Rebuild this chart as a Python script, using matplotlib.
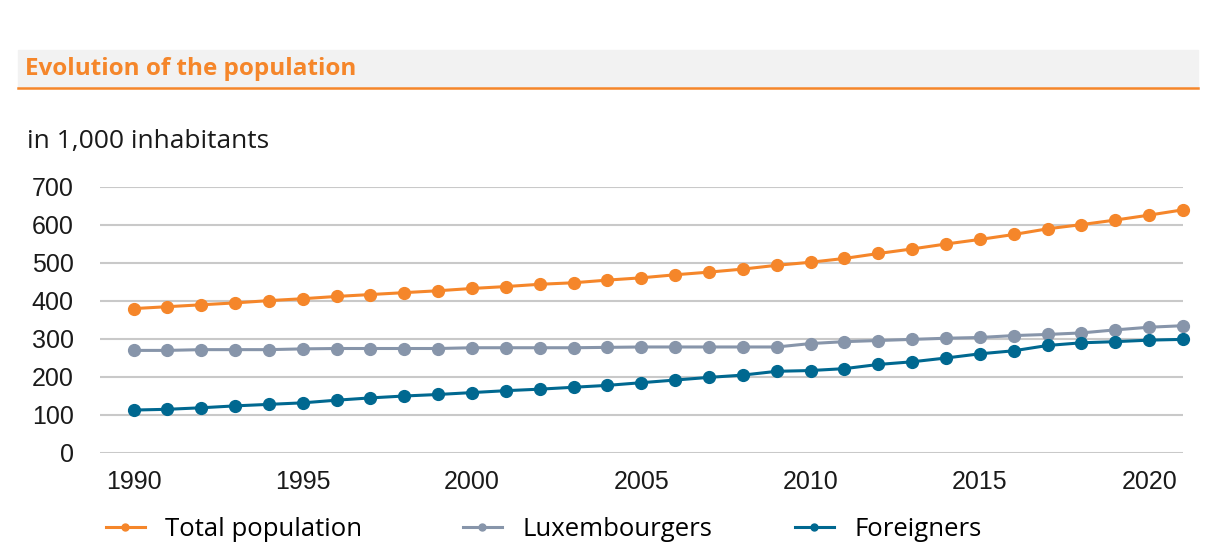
import matplotlib
matplotlib.use("Agg")
from matplotlib import pyplot as plt
from matplotlib.patches import Rectangle
from matplotlib.lines import Line2D

# population in 1,000 inhabitants, 1990-2021
years = list(range(1990, 2022))
total = [380, 385, 390, 395, 401, 406, 412, 417, 422, 427, 433, 438, 444, 448, 455, 461,
         469, 476, 484, 494, 502, 512, 525, 537, 550, 562, 575, 590, 601, 613, 626, 640]
luxembourgers = [270, 270, 272, 272, 272, 274, 275, 275, 275, 275, 277, 277, 277, 277, 278, 279,
                 279, 279, 279, 279, 288, 293, 296, 299, 302, 304, 309, 312, 316, 324, 331, 335]
foreigners = [113, 115, 119, 124, 128, 132, 139, 145, 150, 154, 159, 164, 168, 173, 178, 185,
              192, 199, 205, 215, 217, 222, 233, 240, 250, 261, 269, 283, 290, 293, 297, 299]
yticks = [0, 100, 200, 300, 400, 500, 600, 700]
xticks = [1990, 1995, 2000, 2005, 2010, 2015, 2020]

ORANGE = '#f5862a'
GREY = '#8795aa'
TEAL = '#006890'
GRID = '#c9c9c9'
TXT = '#1a1a1a'

fig = plt.figure(figsize=(12.24, 5.54), dpi=100)

# title band
fig.patches.append(Rectangle((18/1224, 1-87/554), (1198-18)/1224, 37/554,
                             transform=fig.transFigure, color='#f2f2f2', zorder=0))
fig.lines.append(Line2D([18/1224, 1198/1224], [1-88/554, 1-88/554],
                        transform=fig.transFigure, color=ORANGE, lw=1.8))
fig.text(25/1224, 1-69/554, 'Evolution of the population', color=ORANGE,
         fontsize=17.5, fontweight='bold', family='Open Sans', va='center', ha='left')
fig.text(27/1224, 1-141/554, 'in 1,000 inhabitants', color=TXT,
         fontsize=19, family='Open Sans', va='center', ha='left')

ax = fig.add_axes([100/1224, 1-453/554, (1183-100)/1224, (453-187)/554])
series = [(total, ORANGE, 'Total population'),
          (luxembourgers, GREY, 'Luxembourgers'),
          (foreigners, TEAL, 'Foreigners')]
handles = []
for vals, col, lab in series:
    ln, = ax.plot(years, vals, color=col, lw=2.2, marker='o', markersize=8.5,
                  label=lab, clip_on=False, zorder=3)
    handles.append(ln)

ax.set_xlim(1989.01, 2021)
ax.set_ylim(0, 700)
ax.set_yticks(yticks)
ax.set_xticks(xticks)
for y in yticks:
    ax.axhline(y, color=GRID, lw=2.2 if y == 0 else 1.5, zorder=1)
for s in ax.spines.values():
    s.set_visible(False)
ax.tick_params(length=0, labelsize=18, colors=TXT)
ax.tick_params(axis='x', pad=12)
ax.tick_params(axis='y', pad=19)
for lbl in ax.get_xticklabels() + ax.get_yticklabels():
    lbl.set_family('Liberation Sans')

# one legend entry per column, placed where the reference has them
legend_x = [106, 463, 795]
for h, x0 in zip(handles, legend_x):
    leg = fig.legend([h], [h.get_label()], loc='center left',
                     bbox_to_anchor=(x0/1224, 1-529/554), frameon=False,
                     handlelength=1.5, handletextpad=0.8, borderpad=0, borderaxespad=0,
                     prop={'family': 'Open Sans', 'size': 18.5})
    for lh in leg.legend_handles:
        lh.set_markersize(5)

fig.savefig('out.png', dpi=100)
